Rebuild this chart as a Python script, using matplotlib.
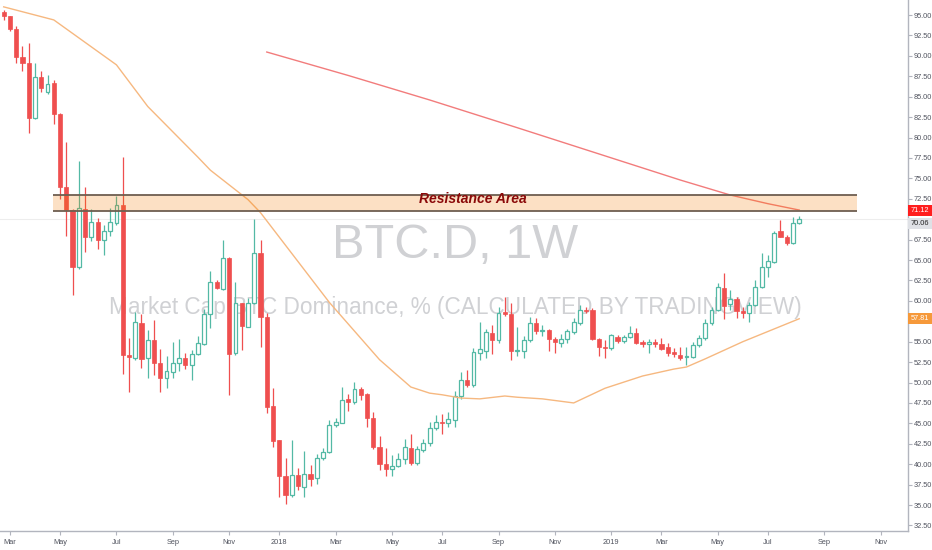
import numpy as np
import pandas as pd
import matplotlib
matplotlib.use("Agg")
import matplotlib.pyplot as plt
from matplotlib.patches import Rectangle

FONT = ["Liberation Sans", "DejaVu Sans"]

# weekly BTC dominance candles, first bar = week of 2017-02-27
first_week = "2017-02-27"
opens = [95.4, 94.9, 93.3, 89.9, 89.1, 82.35, 87.45, 85.6, 86.7, 82.9,
         74.0, 71.1, 64.2, 71.2, 67.85, 69.7, 67.4, 68.5, 69.5, 71.7,
         53.4, 53.0, 57.3, 52.95, 55.2, 52.4, 50.5, 51.3, 52.4, 53.0,
         52.15, 53.5, 54.7, 58.4, 62.3, 61.5, 65.2, 53.6, 59.7, 56.85,
         59.7, 65.9, 58.0, 47.1, 42.95, 38.6, 36.2, 38.7, 37.25, 38.8,
         38.3, 40.7, 41.5, 44.8, 45.1, 47.95, 47.65, 49.2, 48.6, 45.6,
         42.1, 40.0, 39.4, 39.8, 40.6, 42.0, 40.2, 41.7, 42.55, 44.4,
         45.2, 45.1, 45.4, 48.3, 50.3, 49.7, 53.6, 53.9, 56.1, 55.2,
         58.6, 58.4, 53.8, 53.85, 55.2, 57.25, 56.35, 56.45, 55.3, 54.9,
         55.3, 56.2, 57.25, 58.9, 58.9, 55.3, 54.4, 54.2, 55.6, 55.1,
         55.55, 56.05, 55.0, 54.7, 54.95, 54.7, 54.3, 53.7, 53.4, 53.1,
         53.15, 54.6, 55.4, 57.25, 58.9, 61.55, 59.6, 60.2, 58.7, 58.55,
         59.5, 61.65, 64.2, 64.8, 68.5, 67.85, 67.1, 69.5]
highs = [95.6, 94.9, 93.6, 91.2, 91.6, 89.1, 88.1, 87.6, 87.0, 83.0,
         79.5, 71.3, 77.1, 74.0, 71.2, 70.2, 69.3, 71.4, 72.8, 77.65,
         55.4, 58.6, 58.4, 56.4, 57.6, 54.1, 53.3, 55.0, 55.3, 53.6,
         54.0, 55.7, 59.0, 63.6, 62.6, 67.5, 65.4, 62.35, 59.7, 60.4,
         70.0, 67.5, 58.5, 49.3, 43.0, 40.7, 43.0, 39.5, 41.65, 39.9,
         41.2, 42.0, 45.4, 45.6, 49.5, 48.6, 50.1, 49.5, 48.7, 46.4,
         43.5, 42.0, 41.1, 41.4, 43.1, 43.7, 42.2, 43.1, 45.2, 46.0,
         46.2, 46.4, 49.0, 51.3, 51.5, 54.2, 57.45, 56.6, 57.0, 59.3,
         60.5, 59.7, 56.8, 55.7, 58.05, 57.85, 57.0, 56.6, 55.6, 55.9,
         56.6, 57.85, 59.5, 59.3, 59.1, 55.45, 55.2, 56.0, 55.85, 55.85,
         56.9, 56.7, 55.2, 55.3, 55.3, 55.4, 54.8, 54.25, 54.4, 54.4,
         55.0, 55.8, 57.8, 59.3, 62.2, 63.45, 61.3, 60.5, 59.2, 59.9,
         62.55, 65.8, 65.6, 68.5, 69.85, 68.1, 70.3, 70.4]
lows = [94.4, 93.1, 89.1, 88.1, 80.6, 82.3, 85.6, 85.3, 81.7, 72.5,
        67.9, 60.7, 63.9, 66.0, 67.3, 66.3, 65.6, 67.9, 69.3, 51.1,
        48.9, 52.8, 51.8, 50.55, 50.9, 48.9, 49.3, 50.6, 51.4, 51.6,
        50.3, 53.4, 54.6, 56.7, 61.4, 61.3, 48.5, 53.4, 54.0, 56.8,
        59.6, 54.4, 46.3, 42.1, 36.0, 35.1, 36.0, 36.85, 36.0, 37.3,
        37.6, 40.5, 41.4, 44.55, 45.0, 46.5, 47.4, 47.8, 44.6, 41.9,
        39.35, 38.6, 38.6, 39.7, 40.0, 39.9, 39.9, 41.5, 42.2, 44.2,
        43.7, 44.6, 44.6, 48.0, 49.4, 49.4, 52.75, 53.0, 53.5, 54.9,
        58.2, 52.75, 53.2, 53.0, 55.0, 55.9, 55.75, 53.9, 53.6, 54.4,
        54.8, 55.95, 57.0, 58.5, 55.15, 53.2, 53.0, 54.0, 54.8, 54.9,
        55.4, 54.75, 54.3, 53.6, 54.3, 54.0, 53.2, 53.15, 52.75, 52.15,
        53.0, 54.4, 55.2, 57.0, 58.7, 57.75, 58.9, 57.9, 57.9, 57.45,
        59.4, 61.55, 62.9, 64.6, 67.8, 66.8, 67.0, 69.4]
closes = [94.9, 93.25, 89.9, 89.1, 82.35, 87.45, 86.1, 86.6, 82.9, 74.0,
          71.1, 64.2, 71.4, 67.85, 69.7, 67.4, 68.5, 69.7, 71.7, 53.4,
          53.1, 57.45, 52.9, 55.2, 52.4, 50.6, 51.4, 52.4, 53.0, 52.15,
          53.5, 54.8, 58.4, 62.35, 61.6, 65.2, 53.5, 59.7, 56.9, 59.7,
          65.9, 58.0, 47.05, 42.9, 38.55, 36.2, 38.7, 37.3, 38.8, 38.2,
          40.7, 41.55, 44.8, 45.2, 47.9, 47.65, 49.2, 48.5, 45.6, 42.1,
          40.0, 39.4, 39.8, 40.6, 42.05, 40.2, 41.8, 42.6, 44.4, 45.2,
          45.1, 45.5, 48.3, 50.3, 49.7, 53.7, 54.1, 56.2, 55.2, 58.5,
          58.35, 53.85, 54.0, 55.2, 57.25, 56.35, 56.45, 55.3, 55.0, 55.3,
          56.35, 57.45, 58.9, 58.7, 55.3, 54.3, 54.2, 55.8, 55.1, 55.6,
          56.05, 54.9, 54.7, 55.0, 54.7, 54.1, 53.6, 53.45, 53.0, 53.2,
          54.6, 55.4, 57.3, 58.9, 61.65, 59.4, 60.2, 58.7, 58.55, 59.5,
          61.65, 64.2, 64.9, 68.3, 67.85, 67.05, 69.55, 70.06]

# orange moving average, read at these weeks
ma_weeks = [0, 8, 18, 23, 31, 33, 39, 41, 44, 52, 60, 65, 68, 70, 73, 76,
            80, 82, 86, 91, 96, 102, 107, 109, 112, 118, 127]
ma_vals = [96.0, 94.4, 88.9, 83.8, 77.6, 76.0, 72.4, 70.8, 67.8, 59.8, 52.8,
           49.45, 48.7, 48.5, 48.1, 48.0, 48.35, 48.2, 48.0, 47.5, 49.3, 50.8,
           51.65, 51.9, 52.9, 55.0, 57.81]

# red moving average
red_weeks = [42, 55, 68, 82, 95, 108, 116, 122, 127]
red_vals = [90.47, 87.6, 84.6, 81.2, 78.0, 74.8, 72.96, 71.9, 71.12]

resist_low, resist_high = 71.0, 73.0
last_price = 70.06

UP = "#53b9a5"
DOWN = "#ef4f4f"

fig = plt.figure(figsize=(9.32, 5.5), dpi=100)
ax = fig.add_axes([0, 19 / 550, 908 / 932, 531 / 550])
ax.set_xlim(-0.59, 144.37)
ax.set_ylim(31.82, 96.84)

n = len(opens)
idx = np.arange(n)
o = np.array(opens)
c = np.array(closes)
up = c >= o

# watermark
ax.text(72.1, 65.25, "BTC.D, 1W", family=FONT, fontsize=35,
        color="#d0d1d4", ha="center", va="baseline", zorder=0)
ax.text(72.1, 58.45, "Market Cap BTC Dominance, % (CALCULATED BY TRADINGVIEW)",
        family=FONT, fontsize=16.3, color="#d0d1d4",
        ha="center", va="baseline", zorder=0)

ax.axhline(last_price, color="#ededed", lw=0.8, zorder=0.5)

# candles
wick_col = np.where(up, UP, DOWN)
ax.vlines(idx, lows, highs, colors=wick_col, lw=0.9, zorder=2)
body_lo = np.minimum(o, c)
body_h = np.maximum(np.abs(c - o), 0.12)
ax.bar(idx[up], body_h[up], bottom=body_lo[up], width=0.62, facecolor="white",
       edgecolor=UP, lw=0.9, zorder=3)
ax.bar(idx[~up], body_h[~up], bottom=body_lo[~up], width=0.68, facecolor=DOWN,
       edgecolor=DOWN, lw=0.5, zorder=3)

# moving averages
ax.plot(ma_weeks, ma_vals, color="#f6b880", lw=1.0, zorder=4)
ax.plot(red_weeks, red_vals, color="#f27c7c", lw=1.0, zorder=4)

# resistance area
ax.add_patch(Rectangle((7.92, resist_low), 136.3 - 7.92, resist_high - resist_low,
                       facecolor="#f57c00", alpha=0.23, edgecolor="none", zorder=5))
ax.hlines([resist_low, resist_high], 7.92, 136.3, colors="#6e5e50", lw=1.3, zorder=5)
ax.text(74.9, 72.45, "Resistance Area", family=FONT,
        fontsize=10, fontweight="bold", fontstyle="italic", color="#8b0a0a",
        ha="center", va="center", zorder=6)

# axes styling
for s in ["top", "left"]:
    ax.spines[s].set_visible(False)
for s in ["right", "bottom"]:
    ax.spines[s].set_color("#b2b5be")
    ax.spines[s].set_linewidth(1.0)

yt = np.arange(32.5, 95.01, 2.5)
ax.yaxis.tick_right()
ax.set_yticks(yt)
# labels under the price tags are hidden, as on the original scale
ax.set_yticklabels(["" if abs(v - 70) < 0.1 or abs(v - 57.5) < 0.1 else "%.2f" % v
                    for v in yt])

weeks = pd.date_range(first_week, periods=146, freq="W-MON")
tick_pos, tick_lab = [], []
for i in range(1, len(weeks)):
    m = weeks[i].month
    if m != weeks[i - 1].month and m % 2 == 1:
        tick_pos.append(i)
        tick_lab.append(str(weeks[i].year) if m == 1 else weeks[i].strftime("%b"))
ax.set_xticks(tick_pos)
ax.set_xticklabels(tick_lab)

ax.tick_params(axis="both", length=3, width=0.8, color="#b2b5be",
               labelcolor="#50535e", labelsize=5.3)
ax.tick_params(axis="y", pad=1.2)
ax.tick_params(axis="x", pad=2.5)
for t in ax.get_xticklabels() + ax.get_yticklabels():
    t.set_family(FONT)

# price tags on the right scale
fig.canvas.draw()


def price_tag(val, txt, bg, fg, shift=0.0):
    ypx = ax.transData.transform((0, val))[1] - shift
    fig.patches.append(Rectangle((908, ypx - 5.5), 24, 11, transform=None,
                                 facecolor=bg, edgecolor="none", zorder=10))
    fig.text(920 / 932, ypx / 550, txt, ha="center", va="center", color=fg,
             fontsize=5.3, family=FONT, zorder=11)


price_tag(red_vals[-1], "%.2f" % red_vals[-1], "#ff1e1e", "white")
price_tag(last_price, "%.2f" % last_price, "#dfe1e6", "#222222", shift=4.5)
price_tag(ma_vals[-1], "%.2f" % ma_vals[-1], "#f6993a", "white")

fig.savefig("out.png", dpi=100)
